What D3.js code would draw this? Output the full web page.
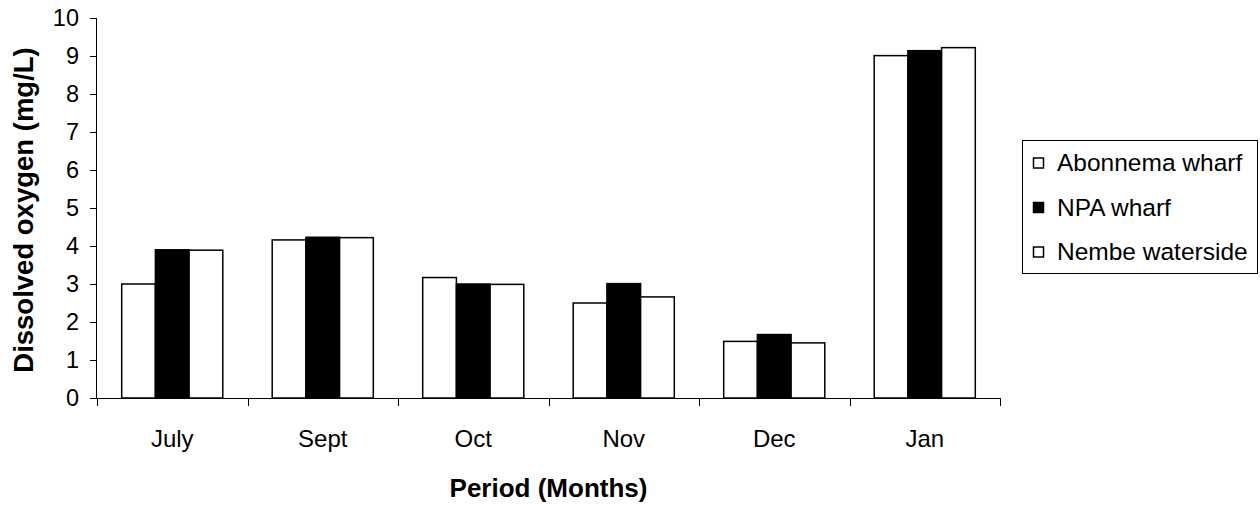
<!DOCTYPE html>
<html>
<head>
<meta charset="utf-8">
<script src="https://cdn.jsdelivr.net/npm/d3@7"></script>
<style>
  html, body { margin: 0; padding: 0; background: #fff; }
  svg { display: block; font-family: "Liberation Sans", Arial, sans-serif; }
</style>
</head>
<body>
<svg id="chart" width="1260" height="505"></svg>
<script>
const months = ["July", "Sept", "Oct", "Nov", "Dec", "Jan"];
const series = ["Abonnema wharf", "NPA wharf", "Nembe waterside"];
const abonnema = [3.0, 4.16, 3.17, 2.5, 1.49, 9.01];
const npa = [3.9, 4.23, 3.0, 3.01, 1.67, 9.14];
const nembe = [3.89, 4.22, 2.99, 2.66, 1.45, 9.22];
const yTicks = [0, 1, 2, 3, 4, 5, 6, 7, 8, 9, 10];

const values = [abonnema, npa, nembe];
const fills = ["#fff", "#000", "#fff"];

const rows = months.map((m, i) => ({
  month: m,
  vals: series.map((s, j) => ({ key: s, value: values[j][i], fill: fills[j] })),
}));

const plotLeft = 97;
const plotRight = 1000;
const plotTop = 18;
const plotBottom = 398;

const chart = d3.select("#chart");

const xScale = d3.scaleBand().domain(months).range([plotLeft, plotRight]).padding(0);
const xInner = d3
  .scaleBand()
  .domain(series)
  .range([0, xScale.bandwidth()])
  .paddingInner(0)
  .paddingOuter(0.733);
const yScale = d3.scaleLinear().domain([0, 10]).range([plotBottom, plotTop]);

// bars
const groups = chart
  .append("g")
  .selectAll("g")
  .data(rows)
  .enter()
  .append("g")
  .attr("transform", (d) => `translate(${xScale(d.month)}, 0)`);

groups
  .selectAll("rect")
  .data((d) => d.vals)
  .enter()
  .append("rect")
  .attr("x", (d) => xInner(d.key))
  .attr("y", (d) => yScale(d.value))
  .attr("width", xInner.bandwidth())
  .attr("height", (d) => yScale(0) - yScale(d.value))
  .attr("fill", (d) => d.fill)
  .attr("stroke", "#000")
  .attr("stroke-width", 1.5);

// y axis
const yAxis = chart
  .append("g")
  .attr("transform", `translate(${plotLeft}, 0)`)
  .call(d3.axisLeft(yScale).tickValues(yTicks).tickSize(7).tickPadding(11).tickFormat(d3.format("d")));
yAxis.select(".domain").attr("d", `M-0.5,${plotTop}V${plotBottom}`).attr("stroke", "#000");
yAxis.selectAll("text").attr("font-size", 23.5).attr("fill", "#000");
yAxis.attr("font-family", null);

// x axis line + boundary ticks
const xAxis = chart
  .append("g")
  .attr("transform", `translate(0, ${plotBottom})`)
  .call(d3.axisBottom(xScale).tickSize(0).tickPadding(32));
xAxis.select(".domain").attr("d", `M${plotLeft},0.5H${plotRight}`).attr("stroke", "#000");
xAxis.selectAll("text").attr("font-size", 24).attr("fill", "#000");
xAxis.attr("font-family", null);

const bounds = months.map((m) => xScale(m)).concat([plotRight]);
xAxis
  .selectAll("line.bound")
  .data(bounds)
  .enter()
  .append("line")
  .attr("class", "bound")
  .attr("x1", (d) => Math.round(d) + 0.5)
  .attr("x2", (d) => Math.round(d) + 0.5)
  .attr("y1", 0)
  .attr("y2", 8)
  .attr("stroke", "#000");

// axis titles
chart
  .append("text")
  .text("Period (Months)")
  .attr("x", (plotLeft + plotRight) / 2)
  .attr("y", 497)
  .attr("text-anchor", "middle")
  .attr("font-weight", "bold")
  .attr("font-size", 26);

chart
  .append("text")
  .text("Dissolved oxygen (mg/L)")
  .attr("transform", `translate(33, 210) rotate(-90)`)
  .attr("text-anchor", "middle")
  .attr("font-weight", "bold")
  .attr("font-size", 27.5);

// legend
const legend = chart.append("g").attr("transform", "translate(1022, 140)");

legend
  .append("rect")
  .attr("x", 0.5)
  .attr("y", 0.5)
  .attr("width", 235)
  .attr("height", 133)
  .attr("fill", "#fff")
  .attr("stroke", "#000");

const items = legend
  .selectAll("g.item")
  .data(series)
  .enter()
  .append("g")
  .attr("class", "item")
  .attr("transform", (_, i) => `translate(0, ${23 + i * 44.5})`);

items
  .append("rect")
  .attr("x", 11.5)
  .attr("y", -5)
  .attr("width", 10)
  .attr("height", 10)
  .attr("fill", (_, i) => fills[i])
  .attr("stroke", "#000")
  .attr("stroke-width", 1.5);

items
  .append("text")
  .text((d) => d)
  .attr("x", 35)
  .attr("y", 8)
  .attr("font-size", 24.5);
</script>
</body>
</html>
